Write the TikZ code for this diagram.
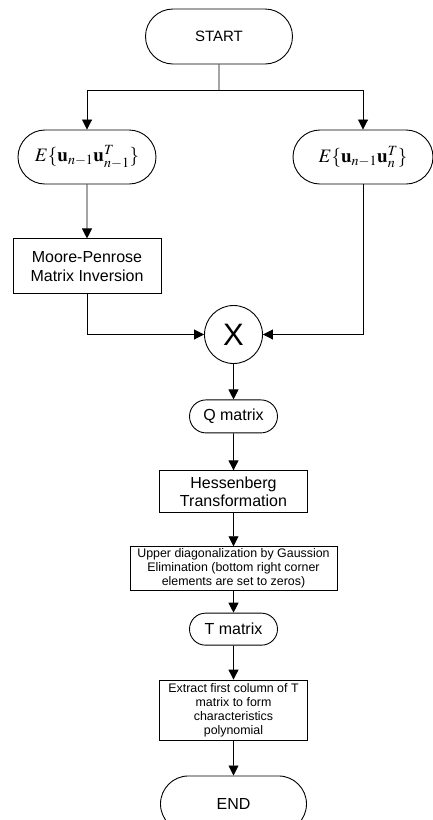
\documentclass[tikz,border=0pt]{standalone}
\usepackage{mathptmx}
\usepackage{fontspec}
\setmainfont{Liberation Sans}
\usetikzlibrary{positioning,shapes.misc,arrows.meta,calc}

\begin{document}
\begin{tikzpicture}[x=1pt, y=1pt, node distance=35pt, >={Triangle[length=10pt,width=10pt]}, line width=0.9pt,
  term/.style={draw, rounded rectangle, inner sep=1pt, font=\fontsize{16}{18}\selectfont},
  box/.style={draw, rectangle, align=center, inner sep=2pt, font=\fontsize{16}{18.5}\selectfont},
  small/.style={font=\fontsize{12.4}{14}\selectfont}]
  \useasboundingbox (-219,36.5) rectangle (214,-783.5);

  \node[term, minimum width=149pt, minimum height=55pt, font=\fontsize{15}{18}\selectfont] (Start) at (0,0) {START};
  \node[term, minimum width=140pt, minimum height=54pt, font=\fontsize{19}{22}\selectfont] (Eprev) at (-132,-120.5) {$E\{\mathbf{u}_{n-1}\mathbf{u}_{n-1}^T\}$};
  \node[term, minimum width=142pt, minimum height=54pt, font=\fontsize{19}{22}\selectfont] (Ecross) at (144,-120.5) {$E\{\mathbf{u}_{n-1}\mathbf{u}_{n}^T\}$};
  \node[box, minimum width=148pt, minimum height=55pt, below=54pt of Eprev] (Pinv) {Moore-Penrose\\Matrix Inversion};
  \node[draw, circle, minimum size=58pt, inner sep=0pt, font=\fontsize{31}{31}\selectfont] (Mult) at (14.5,-298) {X};
  \node[term, minimum width=90pt, minimum height=33pt, below=35.5pt of Mult] (Qmat) {Q matrix};
  \node[box, minimum width=148pt, minimum height=42pt, below=37pt of Qmat] (Hess) {Hessenberg\\Transformation};
  \node[box, small, minimum width=207pt, minimum height=42pt, below=33pt of Hess] (Gauss) {Upper diagonalization by Gaussion\\Elimination (bottom right corner\\elements are set to zeros)};
  \node[term, minimum width=90pt, minimum height=32pt, below=22pt of Gauss] (Tmat) {T matrix};
  \node[box, small, minimum width=148pt, minimum height=60pt, below=34pt of Tmat] (Extract) {Extract first column of T\\matrix to form\\characteristics\\polynomial};
  \node[term, minimum width=148pt, minimum height=56pt, below=35pt of Extract] (End) {END};

  \coordinate[below=26pt of Start] (split);
  \draw (Start) -- (split);
  \draw[->] (split) -| (Eprev);
  \draw[->] (split) -| (Ecross);
  \draw[->] (Eprev) -- (Pinv);
  \draw[->] (Pinv) |- (Mult);
  \draw[->] (Ecross) |- (Mult);
  \draw[->] (Mult) -- (Qmat);
  \draw[->] (Qmat) -- (Hess);
  \draw[->] (Hess) -- (Gauss);
  \draw[->] (Gauss) -- (Tmat);
  \draw[->] (Tmat) -- (Extract);
  \draw[->] (Extract) -- (End);
\end{tikzpicture}
\end{document}
